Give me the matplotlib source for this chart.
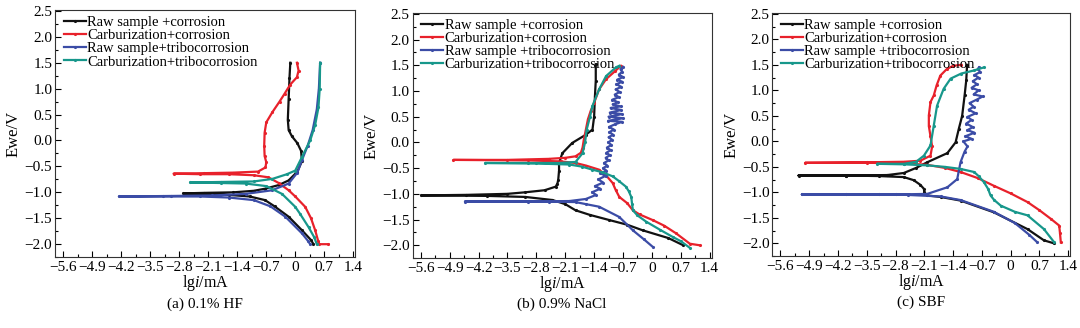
import numpy as np
import matplotlib
matplotlib.use("Agg")
import matplotlib.pyplot as plt
from matplotlib.ticker import MultipleLocator

plt.rcParams['font.family'] = ['Liberation Serif', 'DejaVu Serif']
plt.rcParams['mathtext.fontset'] = 'custom'
plt.rcParams['mathtext.rm'] = 'Liberation Serif'
plt.rcParams['mathtext.it'] = 'Liberation Serif:italic'

# Tafel curves: lg i (mA) and potential Ewe (V), scanned from -2.0 V upwards
# (a) 0.1% HF
a_raw_cor_x = [0.44, 0.38, 0.16, -0.16, -0.5, -0.73, -1.1, -1.6, -2.2, -2.70,
               -2.2, -1.5, -1.0, -0.73, -0.4, -0.16, 0.05, 0.16, 0.14, 0.05,
               -0.08, -0.16, -0.18, -0.16, -0.14, -0.12]
a_raw_cor_y = [-2.0, -1.92, -1.73, -1.47, -1.27, -1.15, -1.08, -1.05, -1.03, -1.02,
               -1.01, -1.0, -0.97, -0.93, -0.86, -0.77, -0.6, -0.4, -0.2, -0.05,
               0.08, 0.2, 0.4, 0.8, 1.2, 1.5]
a_carb_cor_x = [0.80, 0.58, 0.55, 0.48, 0.38, 0.24, 0.0, -0.16, -0.4, -0.65, -1.0,
                -1.6, -2.3, -2.94, -2.2, -1.5, -0.9, -0.72, -0.70, -0.74, -0.75,
                -0.74, -0.70, -0.55, -0.38, -0.26, -0.12, 0.04, 0.08, 0.04]
a_carb_cor_y = [-2.0, -2.0, -1.93, -1.73, -1.5, -1.28, -1.08, -0.96, -0.82, -0.71, -0.67,
                -0.65, -0.65, -0.64, -0.63, -0.62, -0.60, -0.52, -0.42, -0.3, -0.1,
                0.15, 0.35, 0.55, 0.75, 0.9, 1.08, 1.22, 1.35, 1.5]
a_raw_tri_x = [0.36, 0.3, 0.16, -0.24, -0.6, -1.0, -1.6, -2.3, -3.2, -4.26,
               -3.0, -2.0, -1.2, -0.56, -0.16, 0.05, 0.16, 0.3, 0.42, 0.52, 0.57, 0.6]
a_raw_tri_y = [-2.0, -1.93, -1.79, -1.47, -1.27, -1.15, -1.1, -1.08, -1.08, -1.08,
               -1.07, -1.06, -1.03, -0.96, -0.83, -0.62, -0.38, -0.1, 0.2, 0.6, 1.0, 1.5]
a_carb_tri_x = [0.52, 0.46, 0.32, 0.12, 0.0, -0.32, -0.7, -1.2, -1.8, -2.54,
                -1.8, -1.0, -0.55, -0.2, 0.0, 0.16, 0.36, 0.48, 0.56, 0.59, 0.60]
a_carb_tri_y = [-2.0, -1.87, -1.67, -1.42, -1.28, -1.03, -0.88, -0.83, -0.82, -0.81,
                -0.80, -0.79, -0.74, -0.65, -0.58, -0.32, 0.0, 0.3, 0.64, 1.0, 1.5]

# (b) 0.9% NaCl
b_raw_cor_x = [0.76, 0.4, -0.22, -0.6, -1.03, -1.5, -1.85, -2.1, -2.41, -3.07, -4.0, -5.59,
               -4.5, -3.5, -3.07, -2.6, -2.33, -2.29, -2.27, -2.25, -2.25, -2.17, -1.93,
               -1.6, -1.44, -1.40, -1.38, -1.36, -1.36]
b_raw_cor_y = [-2.0, -1.86, -1.71, -1.6, -1.51, -1.41, -1.32, -1.2, -1.12, -1.06, -1.04, -1.03,
               -1.02, -1.0, -0.97, -0.93, -0.86, -0.8, -0.73, -0.55, -0.40, -0.21, -0.01,
               0.15, 0.25, 0.5, 0.9, 1.2, 1.52]
b_carb_cor_x = [1.16, 0.92, 0.59, 0.3, 0.02, -0.3, -0.46, -0.6, -0.79, -0.88, -0.95, -1.1,
                -1.28, -1.6, -1.85, -2.2, -3.0, -4.81, -3.5, -2.5, -2.1, -1.85, -1.72,
                -1.68, -1.65, -1.60, -1.55, -1.48, -1.40, -1.28, -1.11, -0.9, -0.75]
b_carb_cor_y = [-2.0, -1.97, -1.77, -1.62, -1.51, -1.4, -1.32, -1.18, -1.06, -0.92, -0.79, -0.65,
                -0.53, -0.45, -0.40, -0.37, -0.35, -0.34, -0.34, -0.32, -0.30, -0.27, -0.2,
                -0.1, 0.05, 0.25, 0.45, 0.62, 0.77, 1.03, 1.23, 1.38, 1.49]
b_raw_tri_x = [0.02, -0.2, -0.46, -0.79, -1.28, -1.6, -1.85, -2.5, -4.53, -3.0, -2.0,
               -1.6, -1.35, -1.45, -1.25, -1.38, -1.18, -1.3, -1.12, -1.25, -1.1,
               -1.18, -1.08, -1.16, -1.05, -1.12, -1.02, -1.10, -1.00, -1.09, -0.98,
               -1.06, -0.96, -1.05, -0.94, -1.03, -0.92, -1.04, -0.90, -0.72, -1.06,
               -0.70, -1.05, -0.72, -1.02, -0.74, -1.00, -0.76, -0.95, -0.82, -0.96,
               -0.80, -0.90, -0.78, -0.88, -0.74, -0.86, -0.72, -0.84, -0.70, -0.80,
               -0.72, -0.76, -0.70]
b_raw_tri_y = [-2.03, -1.88, -1.71, -1.45, -1.25, -1.2, -1.16, -1.15, -1.15, -1.15, -1.14,
               -1.10, -1.02, -0.97, -0.9, -0.85, -0.78, -0.72, -0.65, -0.6, -0.55,
               -0.50, -0.45, -0.40, -0.35, -0.30, -0.25, -0.20, -0.15, -0.10, -0.05,
               0.00, 0.05, 0.10, 0.15, 0.20, 0.25, 0.30, 0.35, 0.40, 0.42,
               0.47, 0.50, 0.55, 0.58, 0.63, 0.67, 0.70, 0.74, 0.78, 0.83,
               0.88, 0.93, 0.98, 1.03, 1.08, 1.13, 1.18, 1.22, 1.27, 1.32,
               1.37, 1.42, 1.47]
b_carb_tri_x = [0.92, 0.7, 0.51, 0.2, -0.14, -0.35, -0.46, -0.48, -0.50, -0.56, -0.63,
                -0.8, -0.95, -1.2, -1.44, -1.7, -2.0, -2.8, -4.04, -3.0, -2.25, -1.85,
                -1.68, -1.62, -1.58, -1.50, -1.44, -1.28, -1.11, -0.87, -0.79]
b_carb_tri_y = [-2.05, -1.92, -1.84, -1.7, -1.54, -1.42, -1.32, -1.2, -1.06, -0.95, -0.86,
                -0.75, -0.66, -0.58, -0.53, -0.47, -0.43, -0.41, -0.40, -0.40, -0.40, -0.38,
                -0.21, 0.0, 0.25, 0.5, 0.71, 1.03, 1.29, 1.46, 1.49]

# (c) SBF
c_raw_cor_x = [1.06, 0.81, 0.41, -0.41, -1.22, -1.7, -2.03, -2.1, -2.11, -2.2, -2.36,
               -2.6, -3.2, -4.0, -5.16, -4.0, -3.0, -2.6, -2.3, -2.03, -1.54, -1.34,
               -1.26, -1.18, -1.12, -1.08, -1.06]
c_raw_cor_y = [-2.0, -1.94, -1.72, -1.39, -1.16, -1.09, -1.06, -1.0, -0.93, -0.85, -0.76,
               -0.70, -0.68, -0.67, -0.67, -0.67, -0.66, -0.62, -0.52, -0.41, -0.23, -0.02,
               0.25, 0.5, 0.9, 1.2, 1.5]
c_carb_cor_x = [1.22, 1.2, 1.18, 0.98, 0.7, 0.41, 0.0, -0.41, -0.8, -1.22, -1.6, -2.03,
                -2.6, -3.5, -5.0, -3.5, -2.6, -2.2, -1.95, -1.91, -1.95, -1.99, -1.99,
                -1.95, -1.87, -1.80, -1.71, -1.55, -1.40, -1.2]
c_carb_cor_y = [-1.98, -1.8, -1.65, -1.52, -1.35, -1.19, -1.02, -0.87, -0.72, -0.60, -0.52, -0.46,
                -0.43, -0.42, -0.42, -0.41, -0.40, -0.38, -0.28, -0.1, 0.1, 0.3, 0.51,
                0.77, 0.9, 1.1, 1.29, 1.42, 1.48, 1.5]
c_raw_tri_x = [0.65, 0.45, 0.1, -0.41, -1.22, -1.7, -2.5, -3.2, -5.08, -4.0, -2.8,
               -2.03, -1.54, -1.30, -1.22, -1.12, -1.05, -1.15, -0.95, -1.10, -0.88,
               -1.05, -0.92, -1.08, -0.95, -1.05, -0.85, -1.02, -0.90, -1.0, -0.82,
               -0.68, -0.90, -0.78, -0.95, -0.82, -0.92, -0.78, -0.88, -0.74, -0.80, -0.77]
c_raw_tri_y = [-1.98, -1.83, -1.6, -1.38, -1.15, -1.08, -1.05, -1.04, -1.04, -1.04, -1.04,
               -1.03, -0.90, -0.74, -0.41, -0.2, -0.1, 0.0, 0.05, 0.1, 0.17,
               0.22, 0.28, 0.35, 0.42, 0.48, 0.55, 0.62, 0.68, 0.75, 0.82,
               0.88, 0.92, 1.0, 1.05, 1.12, 1.18, 1.25, 1.3, 1.36, 1.42, 1.45]
c_carb_tri_x = [1.06, 0.81, 0.41, 0.1, -0.24, -0.40, -0.49, -0.55, -0.65, -0.78, -0.89,
                -1.22, -1.6, -2.03, -2.6, -3.25, -2.6, -2.3, -2.11, -1.95, -1.87, -1.79,
                -1.63, -1.46, -1.2, -0.89, -0.65]
c_carb_tri_y = [-1.98, -1.72, -1.45, -1.38, -1.26, -1.15, -1.06, -0.93, -0.80, -0.68, -0.60,
                -0.54, -0.50, -0.47, -0.45, -0.44, -0.44, -0.40, -0.28, -0.08, 0.31, 0.70,
                1.03, 1.23, 1.33, 1.39, 1.45]

labels_a = ['Raw sample +corrosion', 'Carburization+corrosion',
            'Raw sample+tribocorrosion', 'Carburization+tribocorrosion']
labels_bc = ['Raw sample +corrosion', 'Carburization+corrosion',
             'Raw sample +tribocorrosion', 'Carburization+tribocorrosion']
captions = ['(a) 0.1% HF', '(b) 0.9% NaCl', '(c) SBF']
colors = ['#111111', '#e8212b', '#3b4ca6', '#17978b']

xticks = [-5.6, -4.9, -4.2, -3.5, -2.8, -2.1, -1.4, -0.7, 0, 0.7, 1.4]
xticklabels = ['\u22125.6', '\u22124.9', '\u22124.2', '\u22123.5', '\u22122.8', '\u22122.1',
               '\u22121.4', '\u22120.7', '0', '0.7', '1.4']
yticks = [-2.0, -1.5, -1.0, -0.5, 0.0, 0.5, 1.0, 1.5, 2.0, 2.5]
yticklabels = ['\u22122.0', '\u22121.5', '\u22121.0', '\u22120.5', '0.0', '0.5',
               '1.0', '1.5', '2.0', '2.5']

panels = [
    ([(a_raw_cor_x, a_raw_cor_y), (a_carb_cor_x, a_carb_cor_y),
      (a_raw_tri_x, a_raw_tri_y), (a_carb_tri_x, a_carb_tri_y)], labels_a),
    ([(b_raw_cor_x, b_raw_cor_y), (b_carb_cor_x, b_carb_cor_y),
      (b_raw_tri_x, b_raw_tri_y), (b_carb_tri_x, b_carb_tri_y)], labels_bc),
    ([(c_raw_cor_x, c_raw_cor_y), (c_carb_cor_x, c_carb_cor_y),
      (c_raw_tri_x, c_raw_tri_y), (c_carb_tri_x, c_carb_tri_y)], labels_bc),
]

fig = plt.figure(figsize=(10.8, 3.28), dpi=100)
boxes = [[0.051, 0.216, 0.278, 0.754],
         [0.382, 0.213, 0.277, 0.748],
         [0.715, 0.219, 0.276, 0.742]]

for box, (series, labels), cap in zip(boxes, panels, captions):
    ax = fig.add_axes(box)
    for (x, y), lab, col in zip(series, labels, colors):
        ax.plot(x, y, color=col, lw=1.6, marker='.', ms=2.5, label=lab)
    ax.set_xlim(-5.8, 1.45)
    ax.set_ylim(-2.25, 2.52)
    ax.set_xticks(xticks)
    ax.set_xticklabels(xticklabels)
    ax.set_yticks(yticks)
    ax.set_yticklabels(yticklabels)
    ax.xaxis.set_minor_locator(MultipleLocator(0.35))
    ax.yaxis.set_minor_locator(MultipleLocator(0.25))
    ax.tick_params(which='both', direction='in', labelsize=11, top=False, right=False)
    ax.tick_params(which='major', length=4, width=0.8)
    ax.tick_params(which='minor', length=2.5, width=0.8)
    ax.tick_params(axis='x', pad=3)
    ax.tick_params(axis='y', pad=2)
    for sp in ax.spines.values():
        sp.set_linewidth(0.8)
        sp.set_color('#333333')
    ax.set_ylabel('Ewe/V', fontsize=12, labelpad=2)
    ax.set_xlabel('lg$\\it{i}$/mA', fontsize=11.5, labelpad=-1)
    ax.legend(loc='upper left', bbox_to_anchor=(0.01, 1.0), frameon=False,
              fontsize=10.5, handlelength=1.5, handletextpad=0.1,
              labelspacing=0.0, borderaxespad=0.2, borderpad=0.2)
    ax.text(0.5, -0.19, cap, transform=ax.transAxes, ha='center', va='center',
            fontsize=11)

fig.savefig('out.png', dpi=100)
